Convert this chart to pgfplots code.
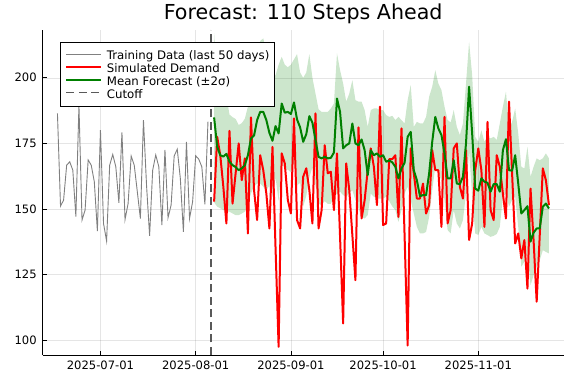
\documentclass[border=0pt]{standalone}
\usepackage{fontspec}
\setmainfont{DejaVu Sans}
\usepackage{pgfplots}
\usepackage{pgfplotstable}
\pgfplotsset{compat=1.18}
\usepgfplotslibrary{fillbetween}
\definecolor{pgreen}{RGB}{0,128,0}
\definecolor{pred}{RGB}{255,0,0}
\definecolor{pgray}{RGB}{128,128,128}

\pgfplotstableread{
d v
-14 186.4
-13 151.1
-12 153.4
-11 166.7
-10 168.0
-9 164.8
-8 147.1
-7 189.5
-6 145.8
-5 149.6
-4 168.7
-3 166.7
-2 160.4
-1 141.6
0 180.1
1 144.5
2 137.8
3 166.7
4 170.8
5 166.1
6 152.4
7 179.2
8 146.0
9 152.1
10 170.2
11 166.7
12 156.6
13 146.4
14 183.9
15 159.1
16 139.8
17 164.8
18 170.6
19 166.1
20 143.9
21 172.5
22 146.7
23 151.5
24 170.2
25 172.8
26 161.7
27 141.3
28 175.6
29 146.4
30 152.8
31 170.3
32 169.0
33 166.1
34 151.8
35 183.3
}\train

\pgfplotstableread{
k red mean lo up
37 152.8 184.9 152.5 217.0
38 177.5 173.7 150.9 196.5
39 170.5 170.5 150.3 190.7
40 158.5 170.0 149.6 190.0
41 144.5 171.0 149.0 193.0
42 179.8 168.0 149.0 186.0
43 152.1 166.7 148.3 185.0
44 163.6 166.0 147.7 184.3
45 175.0 164.8 147.7 182.0
46 161.0 165.5 148.3 182.7
47 169.3 166.7 149.0 184.4
48 140.7 170.5 152.1 189.0
49 184.9 176.9 155.9 198.0
50 157.2 178.0 158.5 197.5
51 145.8 183.9 159.7 208.0
52 170.5 187.0 159.7 214.0
53 164.8 187.0 158.5 215.0
54 155.9 183.9 157.0 210.0
55 142.6 179.0 159.0 199.0
56 173.7 176.0 155.0 200.0
57 135.0 181.6 162.0 201.0
58 97.5 178.8 153.0 205.0
59 171.2 190.2 168.0 208.0
60 167.4 186.7 165.0 205.0
61 153.4 187.0 165.0 204.0
62 148.3 186.2 164.0 205.0
63 184.5 190.6 168.0 207.0
64 145.8 184.1 159.0 209.0
65 142.6 181.1 160.0 202.0
66 162.3 175.6 151.0 200.0
67 165.5 178.5 155.0 202.0
68 157.2 185.4 162.0 209.0
69 144.5 182.9 166.0 200.0
70 186.4 176.3 159.0 194.0
71 142.6 169.9 152.0 188.0
72 149.6 169.3 151.5 187.0
73 174.3 169.9 153.0 187.0
74 163.6 169.3 152.0 187.0
75 164.2 169.5 152.0 188.3
76 149.6 171.5 154.7 190.2
77 171.2 192.1 155.9 209.3
78 139.4 187.0 156.6 202.9
79 106.4 173.1 155.3 197.8
80 167.4 174.3 154.7 190.9
81 157.2 175.0 155.9 194.0
82 140.1 182.6 157.2 199.1
83 122.9 175.0 153.4 191.5
84 181.1 174.3 150.2 190.9
85 146.4 176.5 147.0 190.9
86 153.4 172.4 146.4 187.7
87 164.8 162.9 147.7 181.3
88 173.1 172.4 155.9 187.7
89 166.1 170.5 154.7 188.3
90 151.5 171.2 154.0 188.3
91 189.0 169.9 154.0 187.7
92 143.9 170.5 154.0 187.7
93 144.5 168.0 154.7 185.8
94 169.0 168.5 153.0 185.1
95 169.0 167.8 151.0 185.5
96 170.5 166.1 149.6 183.9
97 147.0 161.7 145.1 185.1
98 180.7 165.5 149.6 183.9
99 140.0 167.6 155.9 182.6
100 98.0 177.5 158.5 191.5
101 173.1 179.4 153.4 197.2
102 163.6 164.8 148.3 181.3
103 154.0 161.0 143.2 183.2
104 154.0 154.9 140.7 182.6
105 159.7 155.3 140.7 182.6
106 148.3 155.3 141.3 185.1
107 151.5 163.6 147.0 192.8
108 172.4 175.6 157.2 196.6
109 164.8 185.1 166.1 202.9
110 164.8 180.7 163.6 197.8
111 143.2 178.2 161.0 195.3
112 185.1 171.2 153.4 189.0
113 144.5 161.7 142.0 183.9
114 149.6 161.7 140.7 183.0
115 173.1 168.6 149.6 187.7
116 175.0 159.7 144.5 181.3
117 158.5 159.5 142.6 178.2
118 154.0 162.3 145.8 182.6
119 172.4 175.0 155.9 197.8
120 138.2 196.6 172.0 213.7
121 144.5 178.8 155.0 201.0
122 164.8 157.8 140.7 177.5
123 173.1 157.0 140.1 175.6
124 164.8 161.7 143.2 180.0
125 143.2 160.4 140.7 175.6
126 183.2 160.0 140.1 177.5
127 149.6 156.6 139.4 176.9
128 145.8 159.5 139.8 177.5
129 170.5 159.5 140.5 176.3
130 166.1 156.6 143.2 182.6
131 155.9 172.4 154.7 189.0
132 146.4 176.6 155.9 194.7
133 190.9 164.8 150.9 181.0
134 163.6 164.6 153.4 183.2
135 136.9 170.5 154.7 188.3
136 140.7 159.7 143.2 178.8
137 131.2 148.3 128.0 166.1
138 138.2 149.6 129.9 165.5
139 119.7 151.1 133.1 173.7
140 157.8 137.6 121.0 162.3
141 138.0 141.0 124.8 166.1
142 114.7 142.6 128.0 169.3
143 140.0 142.6 130.5 168.6
144 165.5 150.9 134.3 169.3
145 161.0 152.1 133.7 171.2
146 151.5 150.2 133.1 169.3
}\fc

\begin{document}
\begin{tikzpicture}
\begin{axis}[
  at={(0bp,0bp)}, anchor=south west,
  scale only axis, width=521bp, height=325bp,
  xmin=-18.8, xmax=150.8, ymin=94.4, ymax=218.2,
  axis x line*=bottom, axis y line*=left,
  axis line style={-, black, line width=0.8bp},
  xtick={0,31,62,92,123},
  xticklabels={2025-07-01,2025-08-01,2025-09-01,2025-10-01,2025-11-01},
  ytick={100,125,150,175,200},
  tick align=inside, major tick length=4bp,
  tick style={black, line width=0.6bp},
  grid=major, grid style={black, opacity=0.1, line width=0.5bp},
  ticklabel style={font=\fontsize{11.6}{13}\selectfont},
  xticklabel style={yshift=-2.8bp},
  yticklabel style={xshift=-2.5bp},
  /pgf/number format/assume math mode=true,
  title={Forecast: 110 Steps Ahead},
  title style={font=\fontsize{20.7}{24}\selectfont, at={(0.5,1)}, anchor=base, yshift=4.7bp},
  legend style={at={(0.0332,0.9641)}, anchor=north west, draw=black, line width=0.8bp,
    fill=white, inner xsep=5bp, inner ysep=6.6bp, row sep=0pt,
    font=\fontsize{11.8}{13}\selectfont,
    nodes={inner sep=0pt, text height=11bp, text depth=1.8bp},
    /tikz/every odd column/.append style={column sep=4.5bp}},
  legend cell align=left,
  legend image code/.code={\draw[#1] (0bp,0.8bp) -- (35bp,0.8bp);},
]
\addplot[pgray, line width=0.9bp] table[x=d, y=v] {\train};
\addlegendentry{Training Data (last 50 days)}
\addplot[pred, line width=2bp, line join=round] table[x=k, y=red] {\fc};
\addlegendentry{Simulated Demand}
\addplot[name path=up, draw=none, forget plot] table[x=k, y=up] {\fc};
\addplot[name path=lo, draw=none, forget plot] table[x=k, y=lo] {\fc};
\addplot[fill=pgreen, fill opacity=0.2, draw=none, forget plot, on layer=main] fill between[of=up and lo];
\addplot[pgreen, line width=2bp, line join=round] table[x=k, y=mean] {\fc};
\addlegendentry{Mean Forecast (±2σ)}
\addplot[black!65, line width=1.6bp, dash pattern=on 8bp off 4.5bp] coordinates {(36,94.4) (36,218.2)};
\addlegendentry{Cutoff}
\end{axis}
\pgfresetboundingbox
\useasboundingbox (-42.7bp,-29bp) rectangle (533.3bp,355bp);
\end{tikzpicture}
\end{document}
